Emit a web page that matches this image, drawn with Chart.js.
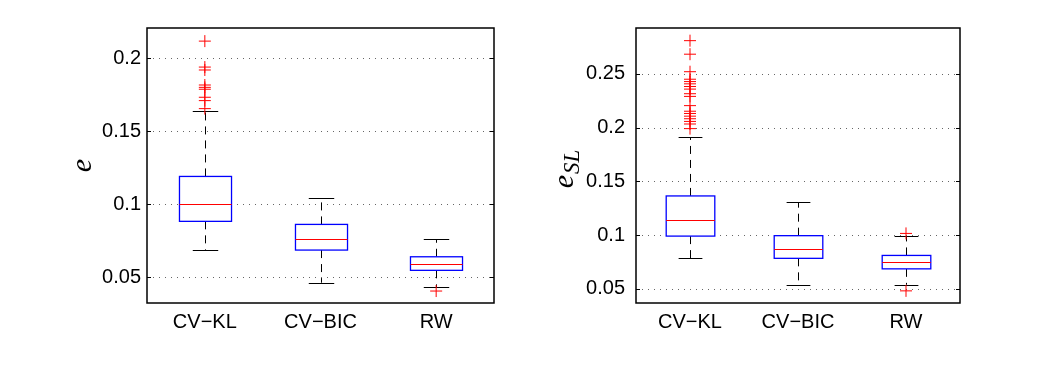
<!DOCTYPE html>
<html>
<head>
<meta charset="utf-8">
<script src="https://cdn.jsdelivr.net/npm/chart.js@4"></script>
<style>
  html, body { margin: 0; padding: 0; background: #fff; width: 1063px; height: 375px; overflow: hidden; }
  .panel { position: absolute; top: 0; height: 375px; }
</style>
</head>
<body>
<div class="panel" style="left:0;width:531px"><canvas id="graficoE"></canvas></div>
<div class="panel" style="left:531px;width:532px"><canvas id="graficoESL"></canvas></div>
<script>
const categorias = ['CV−KL', 'CV−BIC', 'RW'];

// Panel izquierdo: e
const eQ1 = [0.0882, 0.0685, 0.0546];
const eMediana = [0.1000, 0.0762, 0.0591];
const eQ3 = [0.1190, 0.0861, 0.0639];
const eBigoteInf = [0.0685, 0.0461, 0.0429];
const eBigoteSup = [0.1639, 0.1039, 0.0760];
const eAtipicosKL = [0.2118, 0.1940, 0.1920, 0.1817, 0.1801, 0.1788, 0.1733, 0.1710, 0.1655];
const eAtipicosRW = [0.0404];
const eTicks = [0.05, 0.1, 0.15, 0.2];
const eRango = [0.0322, 0.2208];

// Panel derecho: e_SL
const slQ1 = [0.0990, 0.0783, 0.0685];
const slMediana = [0.1143, 0.0867, 0.0750];
const slQ3 = [0.1364, 0.0994, 0.0810];
const slBigoteInf = [0.0783, 0.0532, 0.0537];
const slBigoteSup = [0.1912, 0.1305, 0.0988];
const slAtipicosKL = [0.2810, 0.2684, 0.2521, 0.2451, 0.2429, 0.2408, 0.2383, 0.2359, 0.2316, 0.2291,
  0.2205, 0.2153, 0.2132, 0.2107, 0.2083, 0.2058, 0.2034, 0.1991];
const slAtipicosRW = [0.1015, 0.0480];
const slTicks = [0.05, 0.1, 0.15, 0.2, 0.25];
const slRango = [0.0367, 0.2928];

const anchoCaja = 0.45;
const anchoBigote = 0.22;

const cajasPlugin = {
  id: 'cajas',
  beforeDatasetsDraw(chart, args, o) {
    const { ctx, chartArea: a, scales: { x, y } } = chart;
    ctx.save();
    ctx.lineWidth = 1;

    // rejilla punteada y marcas hacia dentro
    y.ticks.forEach(t => {
      const py = Math.round(y.getPixelForValue(t.value)) + 0.5;
      ctx.strokeStyle = '#666';
      ctx.setLineDash([1, 5]);
      ctx.beginPath(); ctx.moveTo(a.left, py); ctx.lineTo(a.right, py); ctx.stroke();
      ctx.setLineDash([]);
      ctx.strokeStyle = '#000';
      ctx.beginPath();
      ctx.moveTo(a.left, py); ctx.lineTo(a.left + 4, py);
      ctx.moveTo(a.right, py); ctx.lineTo(a.right - 4, py);
      ctx.stroke();
    });

    categorias.forEach((c, i) => {
      const cx = Math.round(x.getPixelForValue(i + 1)) + 0.5;
      const hw = x.getPixelForValue(i + 1 + anchoCaja / 2) - x.getPixelForValue(i + 1);
      const bw = x.getPixelForValue(i + 1 + anchoBigote / 2) - x.getPixelForValue(i + 1);
      const pQ1 = y.getPixelForValue(o.q1[i]);
      const pQ3 = y.getPixelForValue(o.q3[i]);
      const pMed = y.getPixelForValue(o.mediana[i]);
      const pInf = y.getPixelForValue(o.inf[i]);
      const pSup = y.getPixelForValue(o.sup[i]);

      // bigotes
      ctx.strokeStyle = '#000';
      ctx.lineWidth = 1;
      ctx.setLineDash([8, 6]);
      ctx.beginPath();
      ctx.moveTo(cx, pQ3); ctx.lineTo(cx, pSup);
      ctx.moveTo(cx, pQ1); ctx.lineTo(cx, pInf);
      ctx.stroke();
      ctx.setLineDash([]);
      ctx.beginPath();
      ctx.moveTo(cx - bw, Math.round(pSup) + 0.5); ctx.lineTo(cx + bw, Math.round(pSup) + 0.5);
      ctx.moveTo(cx - bw, Math.round(pInf) + 0.5); ctx.lineTo(cx + bw, Math.round(pInf) + 0.5);
      ctx.stroke();

      // caja
      ctx.fillStyle = '#fff';
      ctx.fillRect(cx - hw, pQ3, 2 * hw, pQ1 - pQ3);
      ctx.strokeStyle = '#0000ff';
      ctx.lineWidth = 1.3;
      ctx.strokeRect(cx - hw, pQ3, 2 * hw, pQ1 - pQ3);

      // mediana
      ctx.strokeStyle = '#ff0000';
      ctx.lineWidth = 1;
      ctx.beginPath();
      ctx.moveTo(cx - hw, Math.round(pMed) + 0.5); ctx.lineTo(cx + hw, Math.round(pMed) + 0.5);
      ctx.stroke();
    });
    ctx.restore();
  },
  afterDraw(chart, args, o) {
    const { ctx, chartArea: a } = chart;
    ctx.save();
    ctx.strokeStyle = '#000';
    ctx.lineWidth = 1.5;
    ctx.strokeRect(a.left, a.top, a.right - a.left, a.bottom - a.top);

    // etiqueta del eje y (girada)
    const cy = (a.top + a.bottom) / 2;
    ctx.translate(a.left - o.separacion, cy);
    ctx.rotate(-Math.PI / 2);
    ctx.fillStyle = '#000';
    ctx.textAlign = 'left';
    ctx.textBaseline = 'alphabetic';
    const fuenteE = 'italic 30px "Liberation Serif"';
    const fuenteSub = 'italic 23px "Liberation Serif"';
    ctx.font = fuenteE;
    const we = ctx.measureText(o.simbolo).width;
    let ws = 0;
    if (o.sub) { ctx.font = fuenteSub; ws = ctx.measureText(o.sub).width; }
    const x0 = -(we + ws) / 2 - o.desplazamiento;
    ctx.font = fuenteE;
    ctx.fillText(o.simbolo, x0, 0);
    if (o.sub) {
      ctx.font = fuenteSub;
      ctx.fillText(o.sub, x0 + we + 1, 6);
    }
    ctx.restore();
  }
};

function crearGrafico(id, p) {
  const atipicos = [
    ...p.atipicosKL.map(v => ({ x: 1, y: v })),
    ...p.atipicosRW.map(v => ({ x: 3, y: v }))
  ];
  return new Chart(document.getElementById(id), {
    type: 'scatter',
    data: {
      datasets: [{
        data: atipicos,
        pointStyle: 'cross',
        radius: 6,
        borderWidth: 1,
        borderColor: '#ff0000',
        backgroundColor: '#ff0000'
      }]
    },
    options: {
      responsive: true,
      maintainAspectRatio: false,
      animation: false,
      layout: { padding: { top: 28, right: p.margenDer, bottom: 0, left: 0 } },
      plugins: {
        legend: { display: false },
        tooltip: { enabled: false },
        cajas: {
          q1: p.q1, mediana: p.mediana, q3: p.q3, inf: p.inf, sup: p.sup,
          simbolo: 'e', sub: p.sub, separacion: p.separacion, desplazamiento: p.desplazamiento
        }
      },
      scales: {
        x: {
          type: 'linear', min: 0.5, max: 3.5,
          grid: { display: false, drawTicks: false },
          border: { display: false },
          afterBuildTicks: s => { s.ticks = categorias.map((c, i) => ({ value: i + 1 })); },
          afterFit: s => { s.height = 72; },
          ticks: {
            callback: v => categorias[v - 1],
            color: '#000', padding: 7, maxRotation: 0, autoSkip: false,
            font: { family: '"Liberation Sans", Arial, sans-serif', size: 20 }
          }
        },
        y: {
          min: p.rango[0], max: p.rango[1],
          grid: { display: false, drawTicks: false },
          border: { display: false },
          afterBuildTicks: s => { s.ticks = p.ticks.map(v => ({ value: v })); },
          afterFit: s => { s.width = p.anchoEje; },
          ticks: {
            callback: v => String(v),
            color: '#000', padding: p.sepTicks,
            font: { family: '"Liberation Sans", Arial, sans-serif', size: 20 }
          }
        }
      }
    },
    plugins: [cajasPlugin]
  });
}

crearGrafico('graficoE', {
  q1: eQ1, mediana: eMediana, q3: eQ3, inf: eBigoteInf, sup: eBigoteSup,
  atipicosKL: eAtipicosKL, atipicosRW: eAtipicosRW, ticks: eTicks, rango: eRango,
  sub: '', separacion: 56, desplazamiento: 0, margenDer: 37, anchoEje: 147, sepTicks: 6
});

crearGrafico('graficoESL', {
  q1: slQ1, mediana: slMediana, q3: slQ3, inf: slBigoteInf, sup: slBigoteSup,
  atipicosKL: slAtipicosKL, atipicosRW: slAtipicosRW, ticks: slTicks, rango: slRango,
  sub: 'SL', separacion: 63, desplazamiento: 4, margenDer: 103, anchoEje: 105, sepTicks: 11
});
</script>
</body>
</html>
